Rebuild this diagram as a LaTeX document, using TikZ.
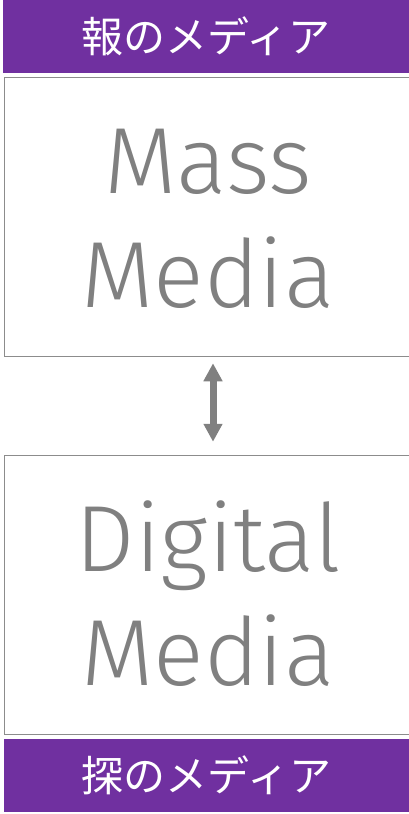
\documentclass[tikz,border=0pt]{standalone}
\usepackage{fontspec}
\usetikzlibrary{arrows.meta, positioning}
\newfontfamily\latinlight{Fira Sans Light}
\newfontfamily\jafont{Noto Sans CJK JP}
\definecolor{barpurple}{HTML}{7030A0}
\definecolor{txtgray}{HTML}{808080}
\definecolor{linegray}{HTML}{8C8C8C}

\begin{document}
\begin{tikzpicture}[x=1pt, y=-1pt, >=latex,
  bar/.style={fill=barpurple, text=white, inner sep=0pt,
    minimum width=406pt, minimum height=73pt, font=\jafont\fontsize{42}{42}\selectfont},
  mediabox/.style={draw=linegray, line width=1.5pt, minimum width=408pt, minimum height=279pt, inner sep=0pt},
  bigword/.style={text=txtgray, inner sep=0pt, anchor=base, font=\latinlight\fontsize{94}{94}\selectfont}]
\useasboundingbox (0,0) rectangle (409,814);

\node[bar] (hou) at (206,36.5) {報のメディア};
\node[mediabox] (mass) at (208.5,217) {};
\node[bigword] (massA) at (208.5,193) {Mass};
\node[bigword] (massB) at (208,307) {Media};

\node[mediabox] (digital) at (208.5,595) {};
\node[bigword] (digA) at (208.5,571) {Digital};
\node[bigword] (digB) at (208,685) {Media};
\node[bar] (tan) at (206.5,775.5) {探のメディア};

\draw[{Triangle[width=18pt,length=18pt]}-{Triangle[width=18pt,length=18pt]}, txtgray, line width=7pt,
  shorten <=6pt, shorten >=13pt] ([xshift=4.5pt]mass.south) -- ([xshift=4.5pt]digital.north);
\end{tikzpicture}
\end{document}
